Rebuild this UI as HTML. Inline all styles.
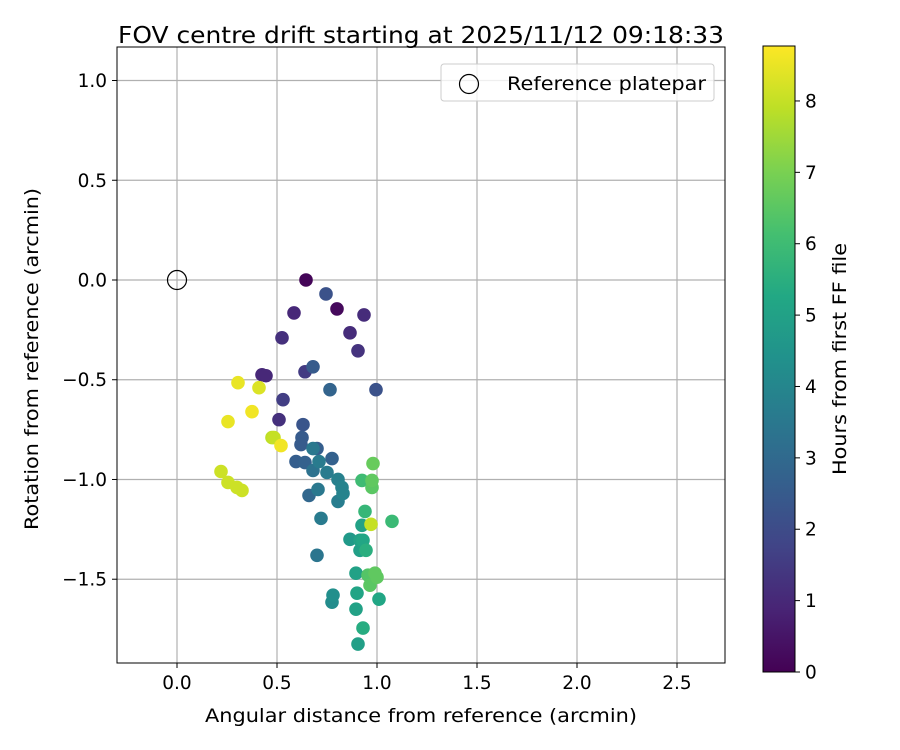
<!DOCTYPE html>
<html><head><meta charset="utf-8"><style>
html,body{margin:0;padding:0;background:#fff;}
svg{display:block;font-family:"DejaVu Sans","Liberation Sans",sans-serif;}
</style></head><body>
<svg id="chart" width="900" height="750" viewBox="0 0 900 750" xmlns="http://www.w3.org/2000/svg">
<defs>
<linearGradient id="vir" x1="0" y1="1" x2="0" y2="0">
<stop offset="0" stop-color="#440154"/><stop offset="0.1" stop-color="#482475"/><stop offset="0.2" stop-color="#414487"/><stop offset="0.3" stop-color="#355f8d"/><stop offset="0.4" stop-color="#2a788e"/><stop offset="0.5" stop-color="#21918c"/><stop offset="0.6" stop-color="#22a884"/><stop offset="0.7" stop-color="#44bf70"/><stop offset="0.8" stop-color="#7ad151"/><stop offset="0.9" stop-color="#bddf26"/><stop offset="1" stop-color="#fde725"/>
</linearGradient>
<clipPath id="clip"><rect x="117" y="47" width="608" height="616"/></clipPath>
</defs>
<text x="421" y="43" text-anchor="middle" font-size="23" textLength="606" lengthAdjust="spacingAndGlyphs">FOV centre drift starting at 2025/11/12 09:18:33</text>
<g id="grid"></g>
<g id="points" clip-path="url(#clip)"></g>
<rect x="117" y="47" width="608" height="616" fill="none" stroke="#000" stroke-width="1"/>
<g id="ticks"></g>
<text x="421" y="722" text-anchor="middle" font-size="19" textLength="432" lengthAdjust="spacingAndGlyphs">Angular distance from reference (arcmin)</text>
<text transform="translate(38,359) rotate(-90)" text-anchor="middle" font-size="19" textLength="342" lengthAdjust="spacingAndGlyphs">Rotation from reference (arcmin)</text>
<g>
<rect x="441" y="64" width="273" height="37" rx="3" fill="#fff" fill-opacity="0.8" stroke="#ccc"/>
<circle cx="469" cy="84" r="9.5" fill="none" stroke="#000" stroke-width="1.2"/>
<text x="507" y="90" font-size="19" textLength="199" lengthAdjust="spacingAndGlyphs">Reference platepar</text>
</g>
<rect x="763" y="46" width="32" height="626" fill="url(#vir)" stroke="#000" stroke-width="1"/>
<g id="cbticks"></g>
<text transform="translate(846,359) rotate(-90)" text-anchor="middle" font-size="19" textLength="232" lengthAdjust="spacingAndGlyphs">Hours from first FF file</text>
</svg>
<script>
const xs=[0.645,0.745,0.80,0.585,0.935,0.865,0.525,0.905,0.68,0.64,0.425,0.765,0.995,0.53,0.51,0.63,0.625,0.62,0.68,0.70,0.775,0.595,0.64,0.71,0.68,0.75,0.805,0.825,0.83,0.805,0.66,0.705,0.72,0.70,0.98,0.925,0.975,0.975,0.94,1.075,0.97,0.925,0.865,0.915,0.93,0.915,0.945,0.895,0.955,0.99,1.0,0.965,1.01,0.90,0.78,0.775,0.895,0.93,0.905,0.305,0.41,0.375,0.255,0.485,0.52,0.22,0.255,0.30,0.325,0.445,0.475];
const ys=[0.0,-0.07,-0.145,-0.165,-0.175,-0.265,-0.29,-0.355,-0.435,-0.46,-0.475,-0.55,-0.55,-0.60,-0.70,-0.725,-0.79,-0.825,-0.845,-0.845,-0.895,-0.91,-0.915,-0.91,-0.955,-0.965,-1.0,-1.04,-1.07,-1.11,-1.08,-1.05,-1.195,-1.38,-0.92,-1.005,-1.005,-1.04,-1.16,-1.21,-1.225,-1.23,-1.30,-1.305,-1.305,-1.355,-1.355,-1.47,-1.48,-1.47,-1.49,-1.53,-1.60,-1.57,-1.58,-1.615,-1.65,-1.745,-1.825,-0.515,-0.54,-0.66,-0.71,-0.79,-0.83,-0.96,-1.015,-1.04,-1.055,-0.48,-0.79];
const hours=[0.1,2.2,0.2,1.0,1.1,1.1,1.2,1.3,2.5,1.5,1.0,2.8,2.2,1.6,1.2,2.3,2.5,2.5,3.5,2.6,2.7,2.6,2.7,3.6,3.3,3.6,3.8,3.9,3.9,3.7,2.9,3.5,3.6,3.4,6.7,6.0,6.6,6.5,5.8,5.9,8.0,5.0,4.7,5.0,5.2,4.9,5.5,5.0,6.4,6.6,6.6,6.5,5.2,5.1,4.3,4.2,5.0,5.4,4.9,8.5,8.3,8.6,8.5,8.0,8.6,8.1,8.1,8.1,8.1,1.0,7.9];
const xTicks=[0.0,0.5,1.0,1.5,2.0,2.5];
const yTicks=[1.0,0.5,0.0,-0.5,-1.0,-1.5];
const cTicks=[0,1,2,3,4,5,6,7,8];
const X0=117,X1=725,Y0=47,Y1=663,xmin=-0.3,xmax=2.74,ymin=-1.92,ymax=1.168,hmax=8.77;
const sx=v=>X0+(v-xmin)/(xmax-xmin)*(X1-X0);
const sy=v=>Y1-(v-ymin)/(ymax-ymin)*(Y1-Y0);
const sc=v=>672-v/hmax*626;
const NS='http://www.w3.org/2000/svg';
const stops=['#440154','#482475','#414487','#355f8d','#2a788e','#21918c','#22a884','#44bf70','#7ad151','#bddf26','#fde725'];
function hex(c){return [1,3,5].map(i=>parseInt(c.substr(i,2),16));}
function viridis(t){t=Math.max(0,Math.min(1,t));const p=t*10,i=Math.min(9,Math.floor(p)),f=p-i;const a=hex(stops[i]),b=hex(stops[i+1]);return 'rgb('+a.map((v,k)=>Math.round(v+(b[k]-v)*f)).join(',')+')';}
function mk(tag,attrs,parent){const e=document.createElementNS(NS,tag);for(const k in attrs)e.setAttribute(k,attrs[k]);parent.appendChild(e);return e;}
const grid=document.getElementById('grid'),ticks=document.getElementById('ticks'),pts=document.getElementById('points'),cb=document.getElementById('cbticks');
xTicks.forEach(v=>{const x=sx(v);
const g=mk('line',{x1:x,x2:x,y1:Y0,y2:Y1,stroke:'#b0b0b0','stroke-width':1.2},grid);


mk('line',{x1:x,x2:x,y1:Y1,y2:Y1+5,stroke:'#000'},ticks);
const t=mk('text',{x:x,y:Y1+26,'text-anchor':'middle','font-size':18.5},ticks);t.textContent=v.toFixed(1).replace('-','\u2212');

});
yTicks.forEach(v=>{const y=sy(v);
const g=mk('line',{x1:X0,x2:X1,y1:y,y2:y,stroke:'#b0b0b0','stroke-width':1.2},grid);


mk('line',{x1:X0-5,x2:X0,y1:y,y2:y,stroke:'#000'},ticks);
const t=mk('text',{x:X0-10,y:y+6.5,'text-anchor':'end','font-size':18.5},ticks);t.textContent=v.toFixed(1).replace('-','\u2212');

});
cTicks.forEach(v=>{const y=sc(v);
mk('line',{x1:795,x2:800,y1:y,y2:y,stroke:'#000'},cb);
const t=mk('text',{x:805,y:y+6.5,'font-size':18.5},cb);t.textContent=v;

});
const ref=mk('circle',{cx:sx(0),cy:sy(0),r:9.5,fill:'none',stroke:'#000','stroke-width':1.2},pts);


const order=hours.map((h,i)=>i).sort((a,b)=>hours[a]-hours[b]);
order.forEach(i=>{const c=mk('circle',{cx:sx(xs[i]),cy:sy(ys[i]),r:6.8,fill:viridis(hours[i]/hmax)},pts);

});
</script>
</body></html>
